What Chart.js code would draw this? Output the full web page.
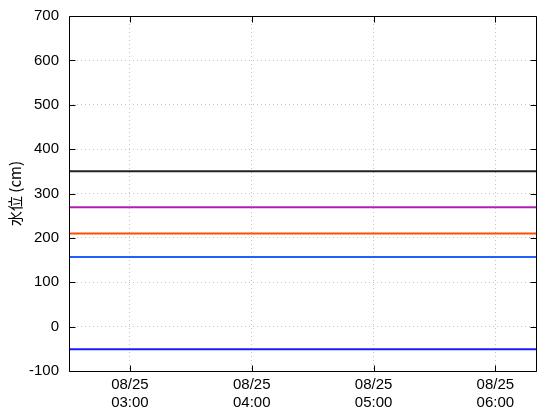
<!DOCTYPE html>
<html>
<head>
<meta charset="utf-8">
<script src="https://cdn.jsdelivr.net/npm/chart.js@4"></script>
<style>
  html, body { margin: 0; padding: 0; background: #fff; }
  #wrap { width: 560px; height: 420px; }
</style>
</head>
<body>
<div id="wrap"><canvas id="c" width="560" height="420"></canvas></div>
<script>
// ---- data ----
const dateLabel = '08/25';
const tickHours = [3, 4, 5, 6];            // x tick positions (hours)
const xStartHour = 2.5;                    // 02:30
const xEndHour = 6 + 20 / 60;              // 06:20
const levelNames = ['level 1', 'level 2', 'level 3', 'level 4', 'level 5'];
const levelValues = [350, 269, 210, 157, -51];
const yTicks = [-100, 0, 100, 200, 300, 400, 500, 600, 700];
const yTitle = '水位 (cm)';

// ---- styles ----
const levelColors = ['#222222', '#b020b8', '#ff4d00', '#2060ff', '#1a1aff'];
const FONT = '"Liberation Sans", sans-serif';
const TITLE_FONT = '"Noto Sans CJK JP", sans-serif';

const datasets = levelValues.map((v, i) => ({
  label: levelNames[i],
  data: [{ x: xStartHour, y: v }, { x: xEndHour, y: v }],
  borderColor: levelColors[i],
  borderWidth: 2,
  pointRadius: 0,
  fill: false,
  tension: 0
}));

function hh(h) {
  const H = Math.floor(h), M = Math.round((h - H) * 60);
  return String(H).padStart(2, '0') + ':' + String(M).padStart(2, '0');
}

const frame = {
  id: 'frame',
  afterDraw(chart) {
    const { ctx, chartArea: a, scales } = chart;
    ctx.save();
    ctx.strokeStyle = '#000';
    ctx.lineWidth = 1;
    ctx.beginPath();
    const L = Math.round(a.left) + 0.5, R = Math.round(a.right) + 0.5;
    const T = Math.round(a.top) + 0.5, B = Math.round(a.bottom) + 0.5;
    ctx.rect(L, T, R - L, B - T);
    // inner ticks
    const tl = 6;
    yTicks.forEach(v => {
      const y = Math.round(scales.y.getPixelForValue(v)) + 0.5;
      ctx.moveTo(L, y); ctx.lineTo(L + tl, y);
      ctx.moveTo(R, y); ctx.lineTo(R - tl, y);
    });
    tickHours.forEach(h => {
      const x = Math.round(scales.x.getPixelForValue(h)) + 0.5;
      ctx.moveTo(x, B); ctx.lineTo(x, B - tl);
      ctx.moveTo(x, T); ctx.lineTo(x, T + tl);
    });
    ctx.stroke();
    ctx.restore();
  }
};

new Chart(document.getElementById('c'), {
  type: 'line',
  data: { datasets },
  options: {
    responsive: false,
    animation: false,
    devicePixelRatio: 1,
    layout: { padding: { top: 16, right: 24, left: 0, bottom: 0 } },
    plugins: { legend: { display: false }, tooltip: { enabled: false } },
    scales: {
      x: {
        type: 'linear',
        min: xStartHour,
        max: xEndHour,
        afterBuildTicks: s => { s.ticks = tickHours.map(v => ({ value: v })); },
        afterFit: s => { s.height = 49; s.paddingLeft = 0; s.paddingRight = 0; },
        ticks: {
          color: '#000',
          font: { family: FONT, size: 15 },
          maxRotation: 0,
          padding: 5,
          callback: v => [dateLabel, hh(v)]
        },
        grid: {
          color: '#c4c4c4',
          lineWidth: 1,
          drawTicks: false,
          tickLength: 0
        },
        border: { display: false, dash: [1, 3] }
      },
      y: {
        type: 'linear',
        min: -100,
        max: 700,
        afterBuildTicks: s => { s.ticks = yTicks.map(v => ({ value: v })); },
        afterFit: s => { s.width = 69; s.paddingTop = 0; s.paddingBottom = 0; },
        ticks: {
          color: '#000',
          font: { family: FONT, size: 15 },
          padding: 10,
          callback: v => String(v)
        },
        grid: {
          color: '#c4c4c4',
          lineWidth: 1,
          drawTicks: false,
          tickLength: 0
        },
        border: { display: false, dash: [1, 3] },
        title: {
          display: true,
          text: yTitle,
          color: '#000',
          font: { family: TITLE_FONT, size: 15 },
          padding: { top: 6, bottom: 0 }
        }
      }
    }
  },
  plugins: [frame]
});
</script>
</body>
</html>
